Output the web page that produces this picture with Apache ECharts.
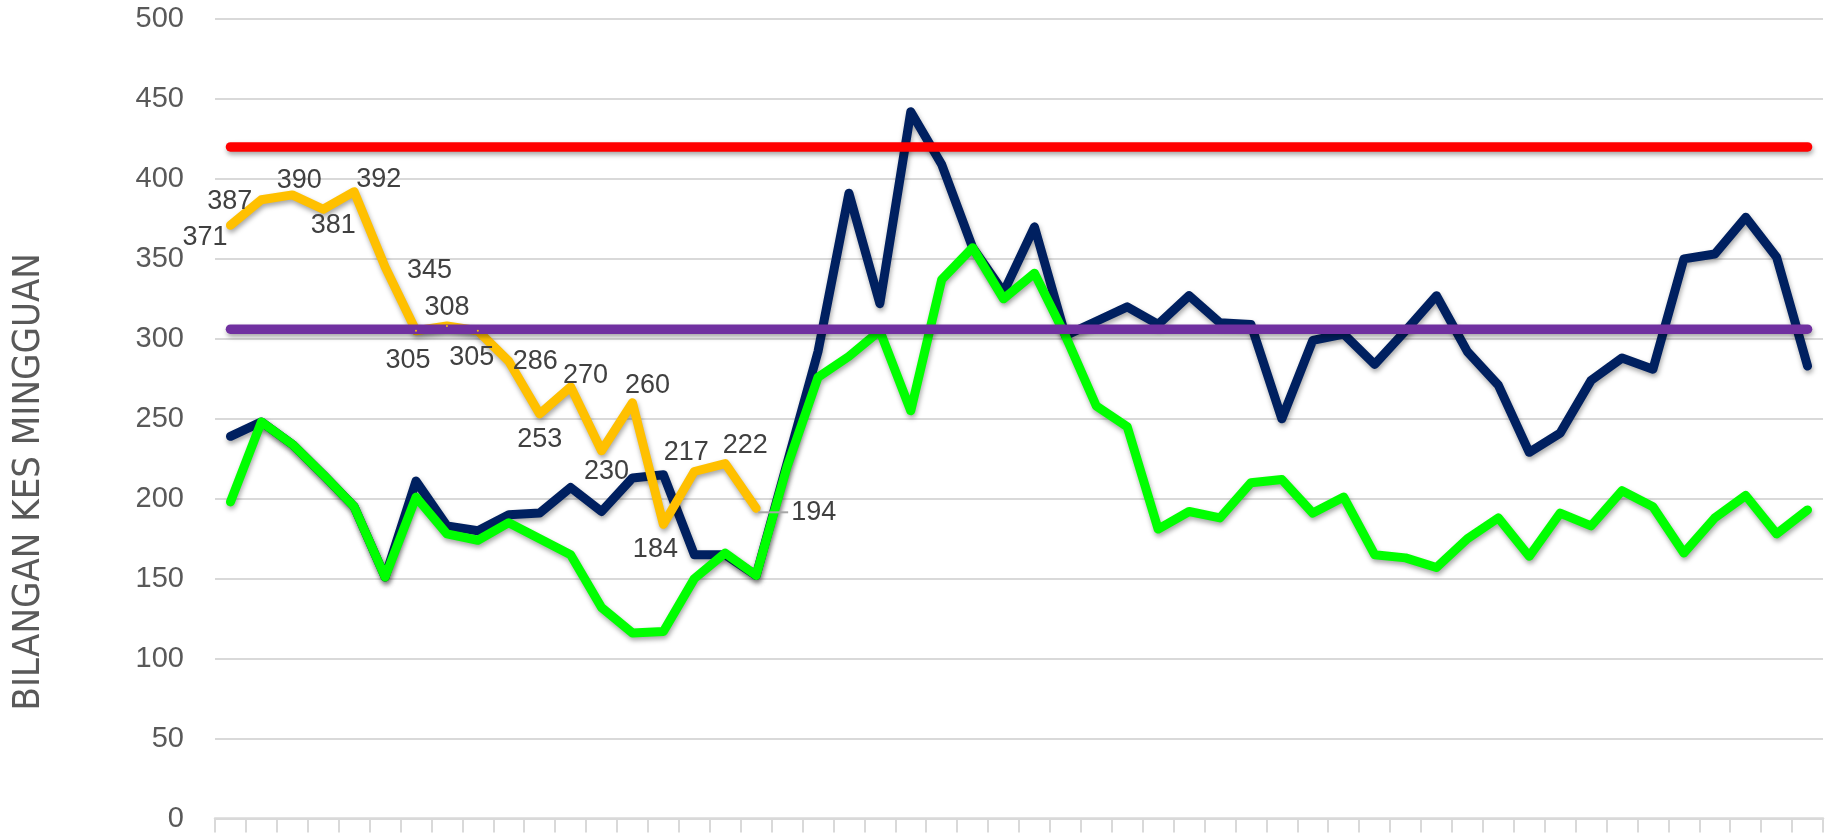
<!DOCTYPE html>
<html>
<head>
<meta charset="utf-8">
<script src="https://cdn.jsdelivr.net/npm/echarts@6/dist/echarts.min.js"></script>
<style>
  html, body { margin: 0; padding: 0; background: #ffffff; }
  #chart { width: 1836px; height: 833px; }
</style>
</head>
<body>
<div id="chart"></div>
<script>
// ---- data ----
const weeks = ['1','2','3','4','5','6','7','8','9','10','11','12','13','14','15','16','17','18','19','20','21','22','23','24','25','26','27','28','29','30','31','32','33','34','35','36','37','38','39','40','41','42','43','44','45','46','47','48','49','50','51','52'];

const yTicks = [0, 50, 100, 150, 200, 250, 300, 350, 400, 450, 500];

const seriesNavy = [239, 248, 234, 215, 195, 151, 211, 183, 180, 190, 191, 207, 192, 213, 215, 165, 165, 152, 222, 292,
  391, 322, 442, 409, 357, 329, 370, 302, 311, 320, 309, 327, 310, 309, 250, 299, 303, 284, 305, 327,
  292, 271, 229, 241, 274, 288, 281, 350, 353, 376, 351, 283];

const seriesGreen = [198, 248, 234, 215, 195, 151, 201, 178, 174, 185, 175, 165, 132, 116, 117, 150, 166, 152, 220, 276,
  289, 305, 255, 337, 357, 325, 341, 302, 258, 245, 181, 192, 188, 210, 212, 191, 201, 165, 163, 157,
  175, 188, 164, 191, 183, 205, 195, 166, 188, 202, 178, 193];

const seriesOrange = [371, 387, 390, 381, 392, 345, 305, 308, 305, 286, 253, 270, 230, 260, 184, 217, 222, 194];

const seriesPurple = [306, 306, 306, 306, 306, 306, 306, 306, 306, 306, 306, 306, 306, 306, 306, 306, 306, 306, 306, 306,
  306, 306, 306, 306, 306, 306, 306, 306, 306, 306, 306, 306, 306, 306, 306, 306, 306, 306, 306, 306,
  306, 306, 306, 306, 306, 306, 306, 306, 306, 306, 306, 306];

const seriesRed = [420, 420, 420, 420, 420, 420, 420, 420, 420, 420, 420, 420, 420, 420, 420, 420, 420, 420, 420, 420,
  420, 420, 420, 420, 420, 420, 420, 420, 420, 420, 420, 420, 420, 420, 420, 420, 420, 420, 420, 420,
  420, 420, 420, 420, 420, 420, 420, 420, 420, 420, 420, 420];

const yAxisTitle = 'BILANGAN KES MINGGUAN';

// ---- label placement for the orange series (style only) ----
const orangeLabelPlacement = [
  { position: 'left',   distance: 2,  offset: [0, 12] },
  { position: 'left',   distance: 8,  offset: [0, 2] },
  { position: 'top',    distance: 0,  offset: [7, 0] },
  { position: 'bottom', distance: 2,  offset: [10, 0] },
  { position: 'right',  distance: 1,  offset: [0, -12] },
  { position: 'right',  distance: 21, offset: [0, 4] },
  { position: 'bottom', distance: 15, offset: [-8, 0] },
  { position: 'top',    distance: 4,  offset: [0, 0] },
  { position: 'bottom', distance: 12, offset: [-6, 0] },
  { position: 'right',  distance: 3,  offset: [0, 0] },
  { position: 'bottom', distance: 11, offset: [0, 0] },
  { position: 'top',    distance: 0,  offset: [15, 3] },
  { position: 'bottom', distance: 6,  offset: [5, 0] },
  { position: 'top',    distance: 3,  offset: [15, 0] },
  { position: 'bottom', distance: 11, offset: [-8, 0] },
  { position: 'top',    distance: 4,  offset: [-8, 0] },
  { position: 'top',    distance: 3,  offset: [20, 0] },
  { position: 'right',  distance: 1,  offset: [0, 4], leader: true }
];

const shadow = {
  shadowColor: 'rgba(0,0,0,0.35)',
  shadowBlur: 5,
  shadowOffsetX: 1,
  shadowOffsetY: 3
};

function lineSeries(name, data, color, width, extra) {
  return Object.assign({
    name: name,
    type: 'line',
    data: data,
    symbol: 'none',
    smooth: false,
    silent: true,
    animation: false,
    lineStyle: Object.assign({ color: color, width: width, cap: 'round', join: 'round' }, shadow),
    itemStyle: { color: color }
  }, extra || {});
}

const orangeData = seriesOrange.map((v, i) => {
  const p = orangeLabelPlacement[i];
  const label = { position: p.position, distance: p.distance, offset: p.offset };
  if (p.leader) {
    label.formatter = '{lead|}{v|{c}}';
    label.rich = {
      lead: { width: 30, height: 2, backgroundColor: '#a6a6a6' },
      v: { color: '#404040', fontSize: 27, fontFamily: 'Liberation Sans, Arial, sans-serif', padding: [0, 0, 0, 3] }
    };
  }
  return { value: v, label: label };
});

const chart = echarts.init(document.getElementById('chart'), null, { renderer: 'canvas' });

chart.setOption({
  backgroundColor: '#ffffff',
  animation: false,
  grid: { left: 215, right: 13, top: 19, bottom: 12, containLabel: false },
  xAxis: {
    type: 'category',
    data: weeks,
    boundaryGap: true,
    axisLine: { show: true, lineStyle: { color: '#d9d9d9', width: 2.5 } },
    axisTick: { show: true, interval: 0, length: 14, lineStyle: { color: '#d9d9d9', width: 2 } },
    axisLabel: { show: false },
    splitLine: { show: false }
  },
  yAxis: {
    type: 'value',
    min: yTicks[0],
    max: yTicks[yTicks.length - 1],
    interval: yTicks[1] - yTicks[0],
    axisLine: { show: false },
    axisTick: { show: false },
    axisLabel: {
      color: '#595959',
      fontSize: 29,
      fontFamily: 'Liberation Sans, Arial, sans-serif',
      margin: 31
    },
    splitLine: { show: true, lineStyle: { color: '#d9d9d9', width: 2 } },
    name: yAxisTitle,
    nameLocation: 'middle',
    nameRotate: 90,
    nameGap: 167,
    nameTextStyle: {
      color: '#595959',
      fontSize: 38,
      fontFamily: 'DejaVu Sans Condensed, Liberation Sans Narrow, Liberation Sans, sans-serif',
      padding: [0, 126, 0, 0]
    }
  },
  series: [
    lineSeries('Navy', seriesNavy, '#002060', 9),
    lineSeries('Green', seriesGreen, '#00ff00', 9),
    lineSeries('Orange', orangeData, '#ffc000', 9, {
      symbol: 'circle',
      symbolSize: 2,
      showSymbol: true,
      label: {
        show: true,
        color: '#404040',
        fontSize: 27,
        fontFamily: 'Liberation Sans, Arial, sans-serif',
        formatter: '{c}'
      }
    }),
    lineSeries('Purple', seriesPurple, '#7030a0', 9.5),
    lineSeries('Red', seriesRed, '#ff0000', 9.5)
  ]
});
</script>
</body>
</html>
